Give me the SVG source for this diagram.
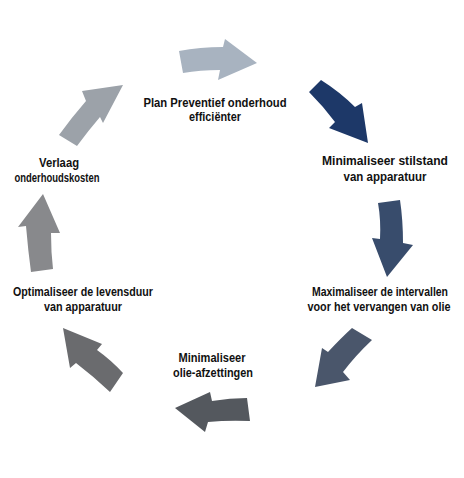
<svg xmlns="http://www.w3.org/2000/svg" width="464" height="478" viewBox="0 0 464 478">
<style>
.lbl{font-family:"Liberation Sans",Arial,sans-serif;font-weight:bold;font-size:12.5px;fill:#111;text-anchor:middle}
</style>
<rect width="464" height="478" fill="#fff"/>
<g id="connectors">
<path id="a1" fill="#a8b3c0" d="M179,51 Q200,47 223,47 L225,39 L257,63 L218,80 L220,70 Q200,70 183,73 Z"/>
<path id="a2" fill="#1d3868" d="M321,80 Q340,92 355,107 L362,103 L368,143 L329,128 L335,122 Q323,106 309,92 Z"/>
<path id="a3" fill="#384c6c" d="M378,203 L400,200 Q403,220 403,243 L413,245 L387,277 L372,238 L380,239 Q381,220 378,203 Z"/>
<path id="a4" fill="#4a566b" d="M352,328 L372,340 Q356,355 343,372 L350,380 L315,387 L322,348 L328,352 Q341,338 352,328 Z"/>
<path id="a5" fill="#54585e" d="M247,398 L250,421 Q228,420 208,422 L205,432 L175,408 L210,392 L212,401 Q230,398 247,398 Z"/>
<path id="a6" fill="#6a6b6e" d="M63,328 L102,344 L97,350 Q111,360 123,373 L110,392 Q93,376 76,363 L70,368 Z"/>
<path id="a7" fill="#88898c" d="M43,194 L60,233 L51,233 Q51,252 53,269 L31,272 Q28,250 26,226 L18,227 Z"/>
<path id="a8" fill="#9ca2a9" d="M123,85 L103,123 L100,117 Q88,131 77,146 L59,135 Q72,117 86,101 L82,91 Z"/>
</g>
<g id="n1"><text class="lbl" x="215" y="107" textLength="143" lengthAdjust="spacingAndGlyphs">Plan Preventief onderhoud</text><text class="lbl" x="215" y="121" textLength="52" lengthAdjust="spacingAndGlyphs">efficiënter</text></g>
<g id="n2"><text class="lbl" x="385" y="165" textLength="126" lengthAdjust="spacingAndGlyphs">Minimaliseer stilstand</text><text class="lbl" x="385" y="181" textLength="83" lengthAdjust="spacingAndGlyphs">van apparatuur</text></g>
<g id="n3"><text class="lbl" x="380" y="296" textLength="136" lengthAdjust="spacingAndGlyphs">Maximaliseer de intervallen</text><text class="lbl" x="379" y="311" textLength="143" lengthAdjust="spacingAndGlyphs">voor het vervangen van olie</text></g>
<g id="n4"><text class="lbl" x="212" y="362" textLength="67" lengthAdjust="spacingAndGlyphs">Minimaliseer</text><text class="lbl" x="213" y="377" textLength="80" lengthAdjust="spacingAndGlyphs">olie-afzettingen</text></g>
<g id="n5"><text class="lbl" x="83" y="296" textLength="140" lengthAdjust="spacingAndGlyphs">Optimaliseer de levensduur</text><text class="lbl" x="83" y="311" textLength="78" lengthAdjust="spacingAndGlyphs">van apparatuur</text></g>
<g id="n6"><text class="lbl" x="59" y="167" textLength="40" lengthAdjust="spacingAndGlyphs">Verlaag</text><text class="lbl" x="57" y="182" textLength="85" lengthAdjust="spacingAndGlyphs">onderhoudskosten</text></g>
</svg>
